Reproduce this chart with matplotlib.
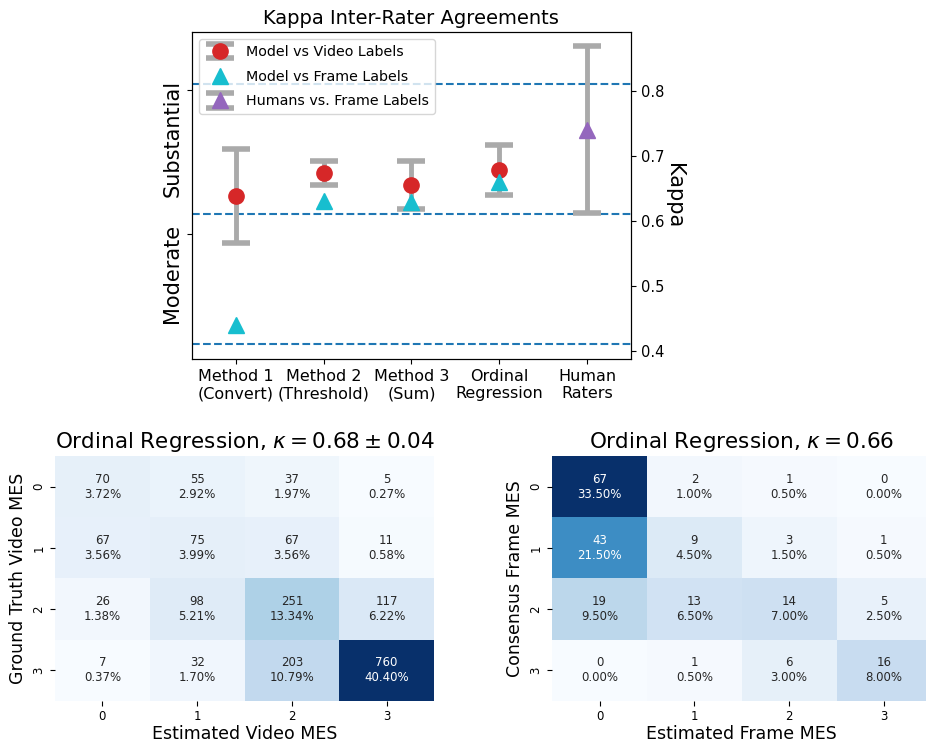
import numpy as np
import matplotlib
matplotlib.use("Agg")
import matplotlib.pyplot as plt
import matplotlib.transforms as mtransforms
import seaborn as sns

# Kappa-Werte (oben)
methoden = ["Method 1\n(Convert)", "Method 2\n(Threshold)", "Method 3\n(Sum)",
            "Ordinal\nRegression", "Human\nRaters"]
video_kappa = [0.638, 0.673, 0.655, 0.678]
video_err = [0.072, 0.018, 0.037, 0.039]
frame_kappa = [0.440, 0.630, 0.629, 0.659]
human_kappa = [0.740]
human_err = [0.128]
grenzen = [0.41, 0.61, 0.81]
kappa_ticks = [0.4, 0.5, 0.6, 0.7, 0.8]
stufen = ["Substantial", "Moderate"]
stufen_pos = [0.801, 0.58]

# Konfusionsmatrizen (unten)
mes_labels = ["0", "1", "2", "3"]
cm_video = np.array([[70, 55, 37, 5],
                     [67, 75, 67, 11],
                     [26, 98, 251, 117],
                     [7, 32, 203, 760]])
cm_frame = np.array([[67, 2, 1, 0],
                     [43, 9, 3, 1],
                     [19, 13, 14, 5],
                     [0, 1, 6, 16]])

fig = plt.figure(figsize=(9.26, 7.43), dpi=100)

# --- oberes Diagramm ---
ax = fig.add_axes([0.2073, 0.5168, 0.474, 0.440])
x = np.arange(len(methoden))
grau = "#aaaaaa"
for g in grenzen:
    ax.axhline(g, color="#1f77b4", linestyle="--", linewidth=1.5, zorder=1)

h1 = ax.errorbar(x[:4], video_kappa, yerr=video_err, fmt="o", color="#d62728",
                 ecolor=grau, elinewidth=3.5, capsize=10, capthick=4, markersize=11,
                 label="Model vs Video Labels", zorder=3)
h2, = ax.plot(x[:4], frame_kappa, "^", color="#17becf", markersize=11,
              label="Model vs Frame Labels", zorder=4)
h3 = ax.errorbar(x[4:], human_kappa, yerr=human_err, fmt="^", color="#9467bd",
                 ecolor=grau, elinewidth=3.5, capsize=10, capthick=4, markersize=11,
                 label="Humans vs. Frame Labels", zorder=3)

ax.set_xlim(-0.5, 4.5)
ax.set_ylim(0.387, 0.890)
ax.set_xticks(x)
ax.set_xticklabels(methoden, fontsize=11.5)
ax.set_yticks(stufen_pos)
ax.set_yticklabels(stufen, rotation=90, va="top", fontsize=15)
versatz = mtransforms.ScaledTranslation(0, 7 / 72, fig.dpi_scale_trans)
for lab in ax.get_yticklabels():
    lab.set_transform(lab.get_transform() + versatz)
ax.set_title("Kappa Inter-Rater Agreements", fontsize=14)
ax.legend(handles=[h1, h2, h3], loc="upper left", fontsize=10.3,
          handlelength=2.1, labelspacing=0.75)

ax2 = ax.twinx()
ax2.set_ylim(ax.get_ylim())
ax2.set_yticks(kappa_ticks)
ax2.set_yticklabels([f"{t:.1f}" for t in kappa_ticks], fontsize=10.5)
ax2.set_ylabel("Kappa", rotation=270, fontsize=15, labelpad=14)


def zeichne_cm(ax, cm, titel, ylabel, xlabel):
    annot = np.array([[f"{v}\n{v / cm.sum() * 100:.2f}%" for v in row] for row in cm])
    sns.heatmap(cm, annot=annot, fmt="", cmap="Blues", cbar=False, ax=ax,
                annot_kws={"fontsize": 8.5},
                xticklabels=mes_labels, yticklabels=mes_labels)
    ax.set_title(titel, fontsize=15.5)
    ax.set_ylabel(ylabel, fontsize=12.5)
    ax.set_xlabel(xlabel, fontsize=12.5, labelpad=1)
    ax.tick_params(labelsize=8.5)
    plt.setp(ax.get_yticklabels(), rotation=90, va="center")
    plt.setp(ax.get_xticklabels(), rotation=0)


ax3 = fig.add_axes([0.0594, 0.0569, 0.4093, 0.3293])
zeichne_cm(ax3, cm_video, r"Ordinal Regression, $\kappa = 0.68 \pm 0.04$",
           "Ground Truth Video MES", "Estimated Video MES")

ax4 = fig.add_axes([0.5964, 0.0569, 0.4093, 0.3293])
zeichne_cm(ax4, cm_frame, r"Ordinal Regression, $\kappa = 0.66$",
           "Consensus Frame MES", "Estimated Frame MES")

fig.savefig("out.png", dpi=100)
